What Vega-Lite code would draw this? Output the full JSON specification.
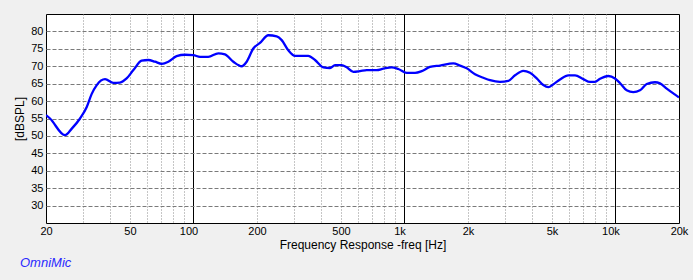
{
  "$schema": "https://vega.github.io/schema/vega-lite/v6.json",
  "width": 633,
  "height": 209,
  "autosize": {"type": "none"},
  "padding": {"left": 46, "top": 14, "right": 14, "bottom": 57},
  "background": "#f0f0f0",
  "title": {
    "text": "OmniMic",
    "orient": "bottom",
    "anchor": "start",
    "frame": "group",
    "font": "Liberation Sans",
    "fontSize": 13,
    "fontStyle": "italic",
    "fontWeight": "normal",
    "color": "#2a2aff",
    "dx": -26,
    "offset": 7
  },
  "config": {
    "view": {"fill": "white", "stroke": "black", "strokeWidth": 1},
    "axis": {
      "labelFont": "Liberation Sans",
      "labelFontSize": 11,
      "labelColor": "black",
      "titleFont": "Liberation Sans",
      "titleFontSize": 12,
      "titleFontWeight": "normal",
      "titleColor": "black",
      "domain": false,
      "ticks": false,
      "tickSize": 0
    }
  },
  "data": {
    "values": [
      {"f": 20, "db": 56.0}, {"f": 20.9, "db": 55.0}, {"f": 24.6, "db": 50.2}, {"f": 26.5, "db": 52.1},
      {"f": 29.0, "db": 55.0}, {"f": 31.2, "db": 58.3}, {"f": 32.9, "db": 62.0}, {"f": 34.8, "db": 64.6},
      {"f": 38.1, "db": 66.3}, {"f": 41.7, "db": 65.2}, {"f": 44.8, "db": 65.3}, {"f": 48.2, "db": 66.5},
      {"f": 51.9, "db": 68.9}, {"f": 56.8, "db": 71.6}, {"f": 61.1, "db": 71.8}, {"f": 65.7, "db": 71.3},
      {"f": 70.7, "db": 70.7}, {"f": 76.0, "db": 71.3}, {"f": 83.2, "db": 72.9}, {"f": 91.2, "db": 73.3},
      {"f": 99.8, "db": 73.2}, {"f": 107.4, "db": 72.7}, {"f": 117.5, "db": 72.7}, {"f": 131.1, "db": 73.7},
      {"f": 141.0, "db": 73.4}, {"f": 154.5, "db": 71.3}, {"f": 169.3, "db": 70.0}, {"f": 178.7, "db": 71.3},
      {"f": 192.1, "db": 75.1}, {"f": 206.6, "db": 76.7}, {"f": 226.3, "db": 78.9}, {"f": 248.0, "db": 78.6},
      {"f": 261.9, "db": 77.5}, {"f": 281.4, "db": 74.6}, {"f": 302.7, "db": 73.0}, {"f": 325.7, "db": 73.0},
      {"f": 350, "db": 73.0}, {"f": 376.7, "db": 71.8}, {"f": 412.5, "db": 69.7}, {"f": 443.7, "db": 69.5},
      {"f": 468.6, "db": 70.3}, {"f": 504.1, "db": 70.3}, {"f": 532.4, "db": 69.7}, {"f": 572.3, "db": 68.4},
      {"f": 615.5, "db": 68.6}, {"f": 662.2, "db": 68.9}, {"f": 738.2, "db": 68.9}, {"f": 793.8, "db": 69.3},
      {"f": 869.3, "db": 69.7}, {"f": 934.9, "db": 69.2}, {"f": 1025, "db": 68.1}, {"f": 1122, "db": 68.1},
      {"f": 1207, "db": 68.6}, {"f": 1321, "db": 69.8}, {"f": 1474, "db": 70.2}, {"f": 1703, "db": 70.8},
      {"f": 1833, "db": 70.2}, {"f": 1972, "db": 69.4}, {"f": 2159, "db": 67.7}, {"f": 2364, "db": 66.7},
      {"f": 2543, "db": 66.0}, {"f": 2836, "db": 65.5}, {"f": 3105, "db": 65.8}, {"f": 3341, "db": 67.4},
      {"f": 3657, "db": 68.7}, {"f": 3935, "db": 68.1}, {"f": 4234, "db": 66.5}, {"f": 4550, "db": 64.6},
      {"f": 4805, "db": 64.0}, {"f": 5072, "db": 64.8}, {"f": 5459, "db": 66.2}, {"f": 5977, "db": 67.4},
      {"f": 6431, "db": 67.4}, {"f": 7038, "db": 66.3}, {"f": 7573, "db": 65.5}, {"f": 7997, "db": 65.5},
      {"f": 8448, "db": 66.4}, {"f": 9247, "db": 67.2}, {"f": 9947, "db": 66.5}, {"f": 10500, "db": 65.2},
      {"f": 11300, "db": 63.1}, {"f": 12145, "db": 62.6}, {"f": 13068, "db": 63.1}, {"f": 14060, "db": 64.9},
      {"f": 15387, "db": 65.4}, {"f": 16250, "db": 65.1}, {"f": 17490, "db": 63.6}, {"f": 18800, "db": 62.2},
      {"f": 19860, "db": 61.2}, {"f": 20000, "db": 61.1}
    ]
  },
  "mark": {"type": "line", "color": "#0000ff", "strokeWidth": 2.3, "interpolate": "monotone", "clip": true},
  "encoding": {
    "x": {
      "field": "f",
      "type": "quantitative",
      "scale": {"type": "log", "domain": [20, 20000], "nice": false},
      "axis": {
        "title": "Frequency Response -freq [Hz]",
        "titlePadding": 3,
        "values": [20, 30, 40, 50, 60, 70, 80, 90, 100, 200, 300, 400, 500, 600, 700, 800, 900, 1000, 2000, 3000, 4000, 5000, 6000, 7000, 8000, 9000, 10000, 20000],
        "labelExpr": "indexof([20,50,100,200,500,1000,2000,5000,10000,20000], datum.value) >= 0 ? (datum.value >= 1000 ? (datum.value/1000) + 'k' : '' + datum.value) : ''",
        "labelOverlap": false,
        "labelFlush": false,
        "labelPadding": 2,
        "labelOffset": {"condition": {"test": "datum.value==100||datum.value==1000||datum.value==10000", "value": -5}, "value": 0},
        "grid": true,
        "gridColor": {"condition": {"test": "datum.value==100||datum.value==1000||datum.value==10000", "value": "black"}, "value": "#8c8c8c"},
        "gridDash": {"condition": {"test": "datum.value==100||datum.value==1000||datum.value==10000", "value": []}, "value": [1, 2]},
        "gridOpacity": {"condition": {"test": "datum.value==20||datum.value==20000", "value": 0}, "value": 1},
        "gridWidth": 1
      }
    },
    "y": {
      "field": "db",
      "type": "quantitative",
      "scale": {"domain": [25, 85], "nice": false, "zero": false},
      "axis": {
        "title": "[dBSPL]",
        "titlePadding": 4,
        "values": [30, 35, 40, 45, 50, 55, 60, 65, 70, 75, 80],
        "labelPadding": 3,
        "grid": true,
        "gridColor": "#7a7a7a",
        "gridDash": [4, 2],
        "gridWidth": 1
      }
    }
  }
}
